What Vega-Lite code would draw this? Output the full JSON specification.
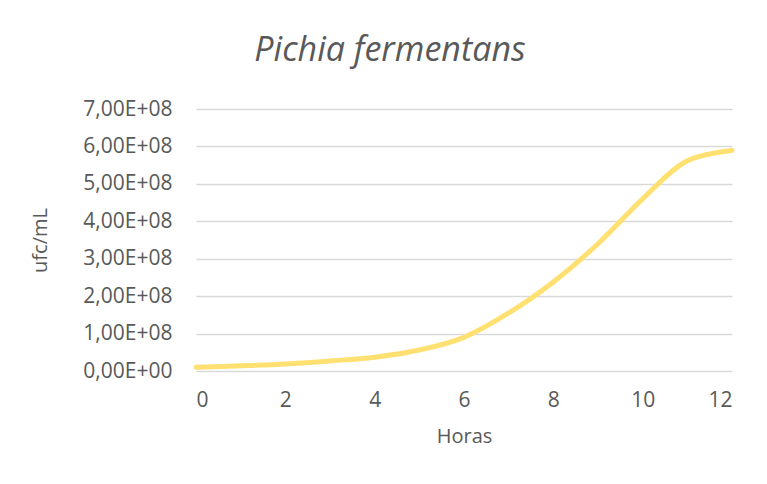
{
  "$schema": "https://vega.github.io/schema/vega-lite/v6.json",
  "autosize": {"type": "none"},
  "width": 536,
  "height": 262,
  "padding": {"left": 196, "top": 109, "right": 35, "bottom": 113},
  "background": "white",
  "title": {
    "text": "Pichia fermentans",
    "font": "Open Sans",
    "fontStyle": "italic",
    "fontWeight": "normal",
    "fontSize": 34,
    "color": "#595959",
    "anchor": "middle",
    "dx": -74,
    "offset": 30
  },
  "data": {
    "values": [
      {"h": 0, "ufc": 10000000},
      {"h": 1, "ufc": 14000000},
      {"h": 2, "ufc": 19000000},
      {"h": 3, "ufc": 27000000},
      {"h": 4, "ufc": 37000000},
      {"h": 5, "ufc": 56000000},
      {"h": 6, "ufc": 90000000},
      {"h": 7, "ufc": 155000000},
      {"h": 8, "ufc": 238000000},
      {"h": 9, "ufc": 340000000},
      {"h": 10, "ufc": 460000000},
      {"h": 11, "ufc": 562000000},
      {"h": 12, "ufc": 589000000}
    ]
  },
  "mark": {"type": "line", "color": "#FFE071", "strokeWidth": 5, "interpolate": "catmull-rom", "strokeCap": "round"},
  "encoding": {
    "x": {
      "field": "h", "type": "quantitative",
      "scale": {"domain": [0, 12], "nice": false},
      "axis": {"title": "Horas", "values": [0, 2, 4, 6, 8, 10, 12], "grid": false, "domain": false, "ticks": false,
        "labelPadding": 18, "titlePadding": 16}
    },
    "y": {
      "field": "ufc", "type": "quantitative",
      "scale": {"domain": [0, 700000000], "nice": false},
      "axis": {"title": "ufc/mL", "values": [0, 100000000, 200000000, 300000000, 400000000, 500000000, 600000000, 700000000],
        "labelExpr": "replace(format(datum.value/1e8,'.2f'),'.',',') + (datum.value == 0 ? 'E+00' : 'E+08')",
        "domain": false, "ticks": false, "labelPadding": 24, "titlePadding": 32, "gridColor": "#d9d9d9", "gridWidth": 1.5}
    }
  },
  "config": {
    "view": {"stroke": null},
    "axis": {"labelFont": "Open Sans", "titleFont": "Open Sans", "labelFontSize": 21, "titleFontSize": 20, "labelColor": "#595959", "titleColor": "#595959", "titleFontWeight": "normal"}
  }
}
